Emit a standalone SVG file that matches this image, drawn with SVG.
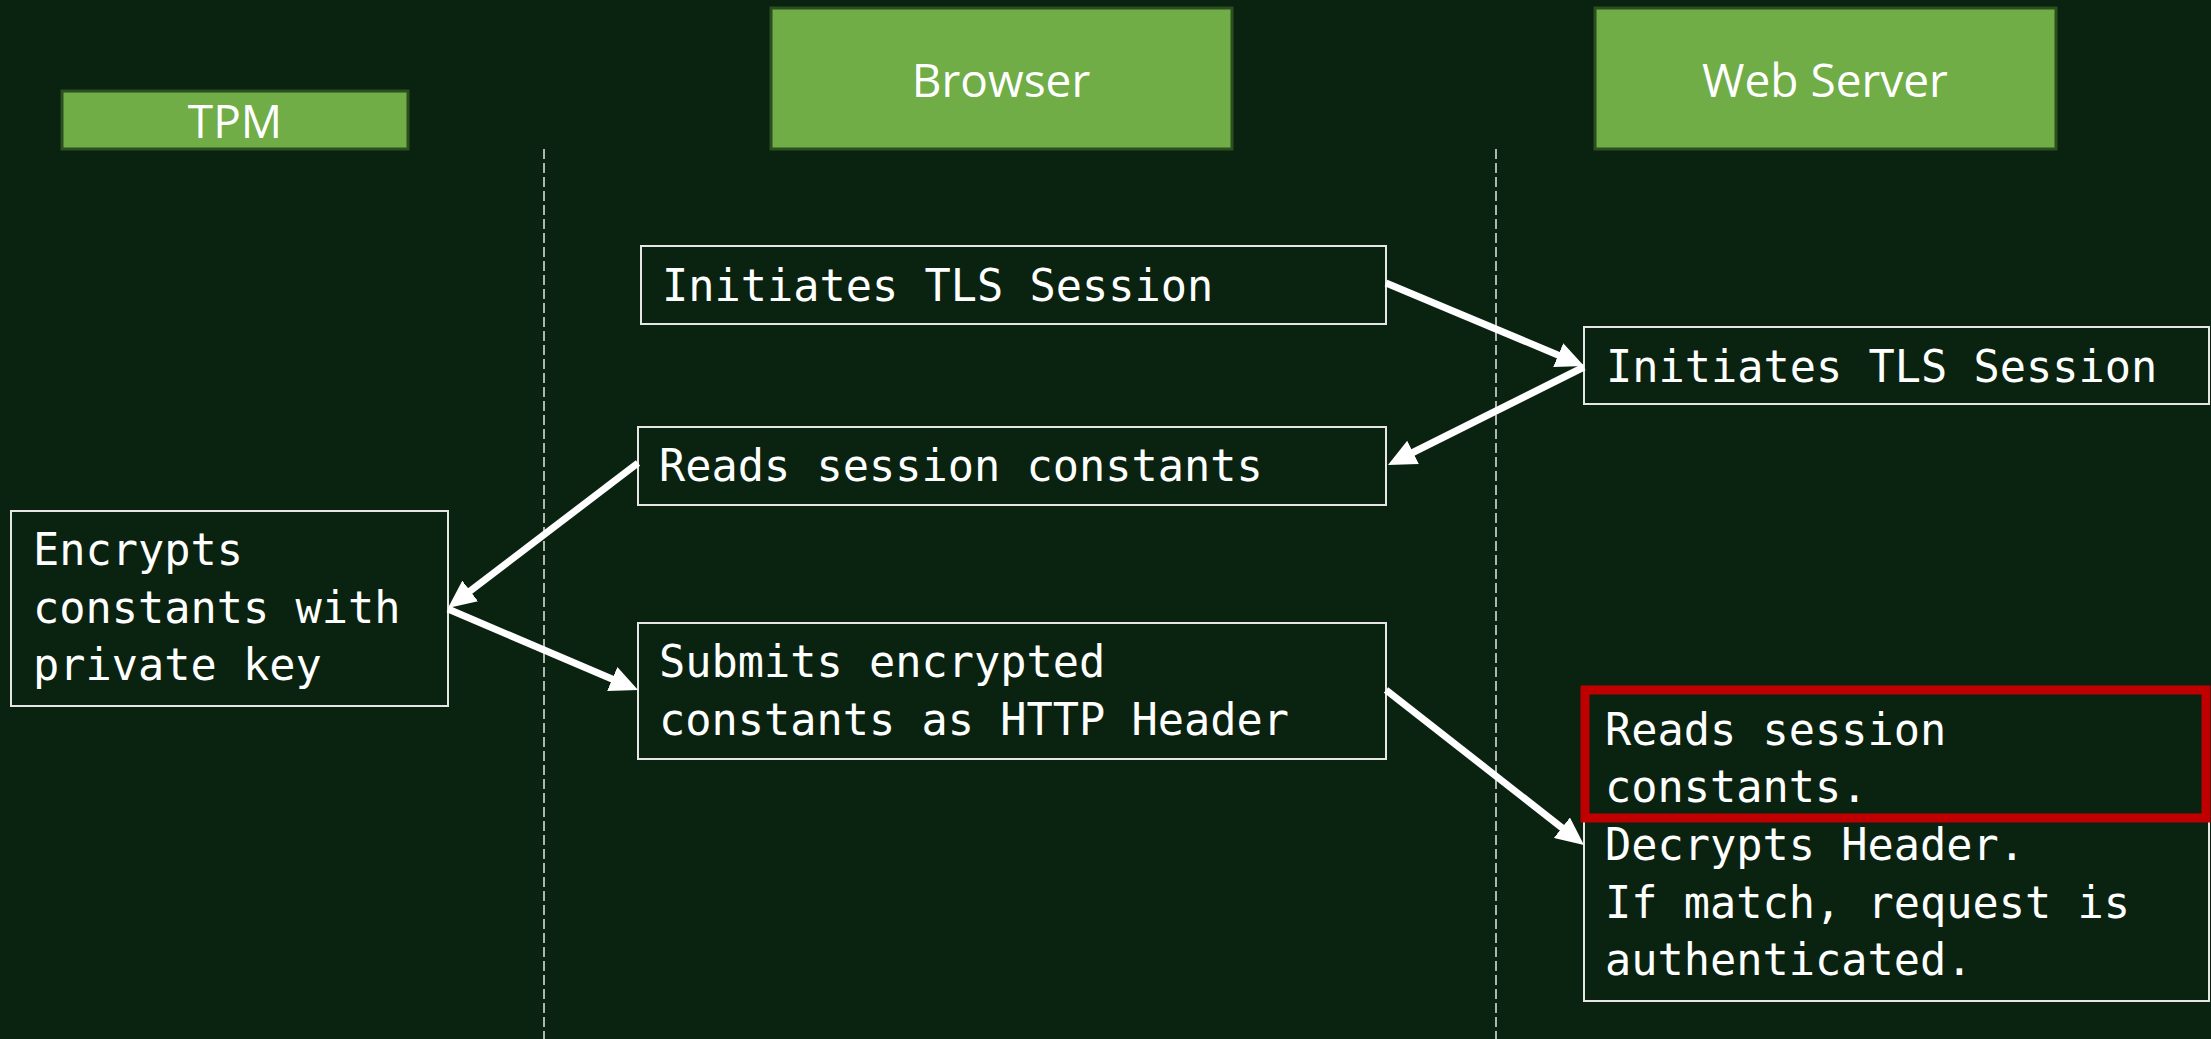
<svg xmlns="http://www.w3.org/2000/svg" width="2211" height="1039" viewBox="0 0 2211 1039">
<style>
.hdr{fill:#70AD47;stroke:#2B4F1F;stroke-width:3}
.htxt{font-family:"Open Sans","Noto Sans",sans-serif;font-size:46px;fill:#ffffff;text-anchor:middle}
.box{fill:#0A2310;stroke:#E6E6E6;stroke-width:2}
.txt{font-family:"DejaVu Sans Mono","Liberation Mono",monospace;font-size:43.6px;fill:#ffffff}
.lane{stroke:#E6E6E6;stroke-width:1.5;stroke-dasharray:10 4;fill:none}
.conn{stroke:#ffffff;stroke-width:7;fill:none;marker-end:url(#ah)}
.hl{fill:none;stroke:#C00000;stroke-width:9}
</style>
<defs>
<marker id="ah" viewBox="0 0 28 26" refX="17" refY="13" markerWidth="28" markerHeight="26" markerUnits="userSpaceOnUse" orient="auto">
<path d="M0,0 L28,13 L0,26 z" fill="#ffffff"/>
</marker>
</defs>
<rect x="0" y="0" width="2211" height="1039" fill="#0A2310"/>
<g id="lanes">
<line class="lane" x1="544" y1="149" x2="544" y2="1039"/>
<line class="lane" x1="1496" y1="149" x2="1496" y2="1039"/>
</g>
<g id="tpm-header"><rect class="hdr" x="62" y="91" width="346" height="58"/><text class="htxt" x="235" y="138">TPM</text></g>
<g id="browser-header"><rect class="hdr" x="771" y="8" width="461" height="141"/><text class="htxt" x="1001" y="97">Browser</text></g>
<g id="server-header"><rect class="hdr" x="1595" y="8" width="461" height="141"/><text class="htxt" x="1825" y="97">Web Server</text></g>
<g id="browser-init"><rect class="box" x="641" y="246" width="745" height="78"/><text class="txt" x="662" y="301">Initiates TLS Session</text></g>
<g id="server-init"><rect class="box" x="1584" y="327" width="625" height="77"/><text class="txt" x="1606" y="382">Initiates TLS Session</text></g>
<g id="browser-reads"><rect class="box" x="638" y="427" width="748" height="78"/><text class="txt" x="659" y="481">Reads session constants</text></g>
<g id="tpm-encrypts"><rect class="box" x="11" y="511" width="437" height="195"/><text class="txt" x="33" y="565">Encrypts</text><text class="txt" x="33" y="623">constants with</text><text class="txt" x="33" y="680">private key</text></g>
<g id="browser-submits"><rect class="box" x="638" y="623" width="748" height="136"/><text class="txt" x="659" y="677">Submits encrypted</text><text class="txt" x="659" y="735">constants as HTTP Header</text></g>
<g id="server-decrypts"><rect class="box" x="1584" y="691" width="625" height="310"/><text class="txt" x="1605" y="745">Reads session</text><text class="txt" x="1605" y="802">constants.</text><text class="txt" x="1605" y="860">Decrypts Header.</text><text class="txt" x="1605" y="918">If match, request is</text><text class="txt" x="1605" y="975">authenticated.</text><rect class="hl" x="1585" y="690" width="621" height="128"/></g>
<g id="connectors">
<line class="conn" x1="1386" y1="283" x2="1573.9" y2="361.7"/>
<line class="conn" x1="1584" y1="367" x2="1397.8" y2="460"/>
<line class="conn" x1="638" y1="463" x2="456.7" y2="601.3"/>
<line class="conn" x1="448" y1="609" x2="627.9" y2="685.7"/>
<line class="conn" x1="1386" y1="690" x2="1575.3" y2="838.2"/>
</g>
</svg>
